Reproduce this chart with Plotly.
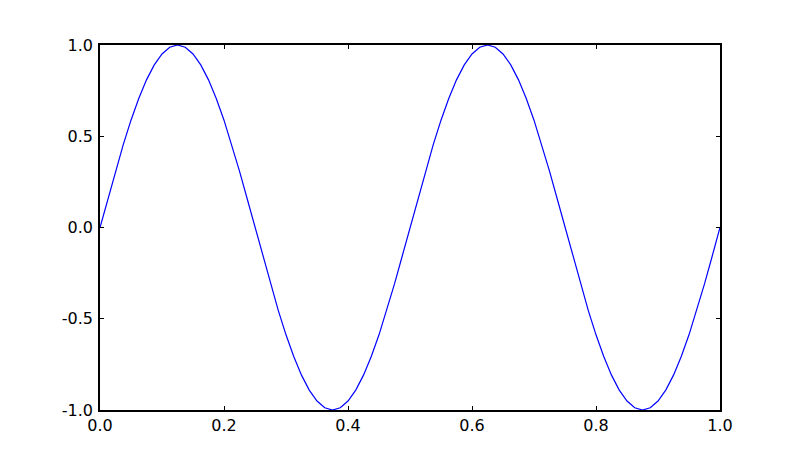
import plotly.graph_objects as go

# x sample positions (read along the horizontal axis)
x_vals = [i / 80 for i in range(81)]
# y values at each sample
y_vals = [
    0.0, 0.156, 0.309, 0.454, 0.588, 0.707, 0.809, 0.891, 0.951, 0.988,
    1.0, 0.988, 0.951, 0.891, 0.809, 0.707, 0.588, 0.454, 0.309, 0.156,
    0.0, -0.156, -0.309, -0.454, -0.588, -0.707, -0.809, -0.891, -0.951, -0.988,
    -1.0, -0.988, -0.951, -0.891, -0.809, -0.707, -0.588, -0.454, -0.309, -0.156,
    0.0, 0.156, 0.309, 0.454, 0.588, 0.707, 0.809, 0.891, 0.951, 0.988,
    1.0, 0.988, 0.951, 0.891, 0.809, 0.707, 0.588, 0.454, 0.309, 0.156,
    0.0, -0.156, -0.309, -0.454, -0.588, -0.707, -0.809, -0.891, -0.951, -0.988,
    -1.0, -0.988, -0.951, -0.891, -0.809, -0.707, -0.588, -0.454, -0.309, -0.156,
    0.0,
]

x_tickvals = [0.0, 0.2, 0.4, 0.6, 0.8, 1.0]
x_ticktext = ["0.0", "0.2", "0.4", "0.6", "0.8", "1.0"]
y_tickvals = [-1.0, -0.5, 0.0, 0.5, 1.0]
y_ticktext = ["-1.0", "-0.5", "0.0", "0.5", "1.0"]

fig = go.Figure()
fig.add_trace(go.Scatter(x=x_vals, y=y_vals, mode="lines",
                         line=dict(color="#0000ff", width=1.2), showlegend=False))

axis_common = dict(showline=True, linecolor="black", linewidth=1.5, mirror="ticks",
                   ticks="inside", ticklen=4, tickwidth=1, tickcolor="black",
                   showgrid=False, zeroline=False,
                   tickfont=dict(family="DejaVu Sans", size=16, color="black"))

fig.update_layout(
    width=800, height=457,
    margin=dict(l=92, r=88, t=37, b=55),
    plot_bgcolor="white", paper_bgcolor="white",
    xaxis=dict(range=[0, 1], tickmode="array", tickvals=x_tickvals, ticktext=x_ticktext,
               ticklabelstandoff=0, **axis_common),
    yaxis=dict(range=[-1, 1], tickmode="array", tickvals=y_tickvals, ticktext=y_ticktext,
               ticklabelstandoff=2, **axis_common),
)

fig.write_html("out.html")
